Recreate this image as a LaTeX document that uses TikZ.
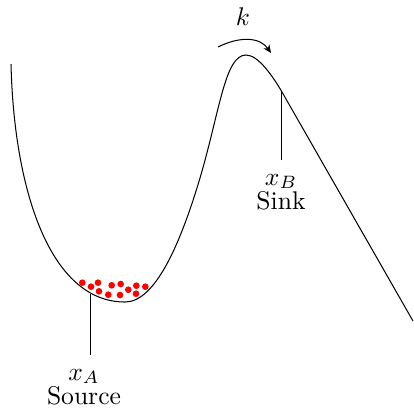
\documentclass[tikz,border=0pt]{standalone}
\usepackage{amsmath,amssymb}
\usetikzlibrary{arrows.meta,positioning}

\begin{document}
\begin{tikzpicture}[x=0.391pt,y=-0.391pt]
\tikzset{
  particle/.style={circle,fill=red,inner sep=0pt,minimum size=2.6pt},
  label/.style={align=center,inner sep=1pt},
  rate/.style={-{Stealth[length=3.2pt,width=2.8pt]}},
  marker/.style={thin,shorten >=4.3pt}
}
\useasboundingbox (0,0) rectangle (414,407);
% potential curve
\draw (11,64) .. controls (14,190) and (50,302) .. (125,302)
  .. controls (155,302) and (180,245) .. (200,178)
  .. controls (220,110) and (225,55) .. (246,55)
  .. controls (258,55) and (272,75) .. (282,92) -- (413,321);
% particles in the well
\foreach \i/\px/\py in {1/82.3/282.7,2/91/286.7,3/98/282.7,4/99/291.3,5/111.7/285.3,6/108.3/294.7,
  7/120.7/284,8/120/295,9/128.3/289.7,10/136.3/285.7,11/136/293.7,12/145.3/286.7}
  \node[particle] (p\i) at (\px,\py) {};
% rate arrow
\coordinate (k_start) at (218,47);
\coordinate (k_end) at (271,53);
\draw[rate] (k_start) .. controls (240,36) and (260,37) .. (k_end);
\node (n_k) at (243,17) {$k$};
% source and sink
\coordinate (c_a) at (90.5,294);
\coordinate (c_b) at (281.5,91);
\node[label,anchor=north] (n_a) at (84,366) {$x_A$\\[-2.5pt]Source};
\node[label,anchor=north] (n_b) at (281,171) {$x_B$\\[-2.5pt]Sink};
\draw[marker] (c_a) -- (c_a |- n_a.north);
\draw[marker] (c_b) -- (c_b |- n_b.north);
\end{tikzpicture}
\end{document}
